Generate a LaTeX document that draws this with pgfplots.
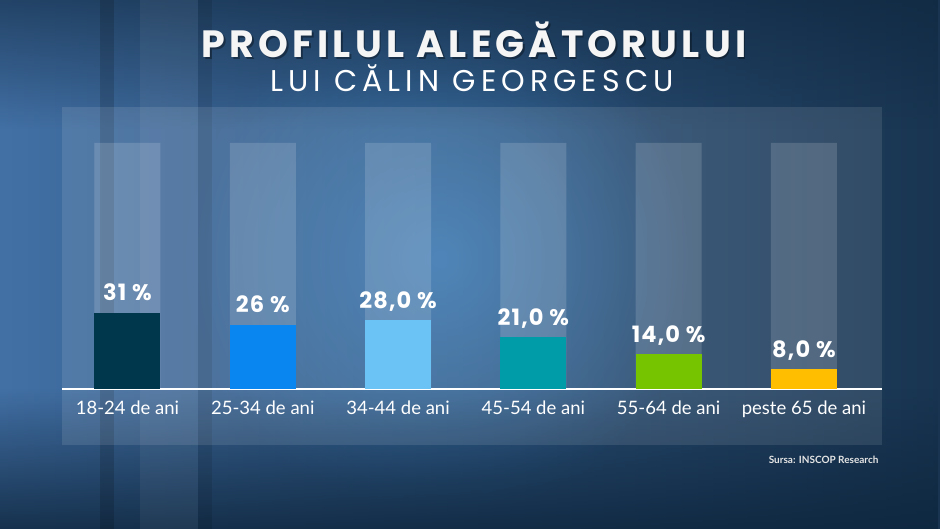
\documentclass[border=0pt]{standalone}
\usepackage{pgfplots}
\pgfplotsset{compat=1.18}
\usepackage{fontspec}
\setmainfont{Lato}
\newfontfamily\titlewide[LetterSpace=11]{Poppins}
\newfontfamily\subwide[LetterSpace=17]{Poppins}
\newfontfamily\valfont[LetterSpace=5]{Poppins}
\usetikzlibrary{fadings}
\definecolor{bgL}{RGB}{66,112,165}
\definecolor{bgM}{RGB}{38,86,140}
\definecolor{bgR}{RGB}{24,52,80}
\definecolor{glow}{RGB}{70,150,220}
\definecolor{dark}{RGB}{14,38,62}
\definecolor{c1}{RGB}{0,55,77}
\definecolor{c2}{RGB}{10,134,240}
\definecolor{c3}{RGB}{107,195,245}
\definecolor{c4}{RGB}{0,157,168}
\definecolor{c5}{RGB}{118,196,0}
\definecolor{c6}{RGB}{255,191,0}
\tikzfading[name=glowfade, inner color=transparent!0, outer color=transparent!100]
\tikzfading[name=fadeup, bottom color=transparent!0, top color=transparent!100]
\tikzfading[name=fadedown, top color=transparent!0, bottom color=transparent!100]
\begin{document}
\begin{tikzpicture}[x=1pt,y=1pt]
\useasboundingbox (0,0) rectangle (940,529);
\begin{scope}
\clip (0,0) rectangle (940,529);
\shade[left color=bgL, middle color=bgM, right color=bgR] (0,0) rectangle (940,529);
\fill[glow, path fading=glowfade, fill opacity=0.55] (440,270) circle (260);
\fill[dark, path fading=fadeup, fill opacity=0.85] (0,0) rectangle (940,140);
\fill[dark, path fading=fadedown, fill opacity=0.6] (0,400) rectangle (940,529);
\fill[black, fill opacity=0.15] (100,0) rectangle (114,529);
\fill[black, fill opacity=0.10] (198,0) rectangle (212,529);
\fill[white, fill opacity=0.05] (140,0) rectangle (198,529);
\end{scope}
\node[text=black, opacity=0.35, font=\titlewide\fontsize{38}{41}\selectfont\bfseries] at (475.5,487.5) {PROFILUL ALEGĂTORULUI};
\node[text=white!92!gray, font=\titlewide\fontsize{38}{41}\selectfont\bfseries] at (474,489) {PROFILUL ALEGĂTORULUI};
\node[text=white, font=\subwide\fontsize{30}{33}\selectfont] at (472,451) {LUI CĂLIN GEORGESCU};
\begin{axis}[
  at={(62pt,84pt)}, anchor=south west,
  scale only axis, width=820pt, height=338pt,
  xmin=-0.484, xmax=5.577, ymin=-22.8, ymax=114.6,
  axis background/.style={fill=white, fill opacity=0.1},
  axis y line=none, axis x line*=middle,
  x axis line style={white, line width=2pt},
  xtick={0,...,5},
  xticklabels={18-24 de ani,25-34 de ani,34-44 de ani,45-54 de ani,55-64 de ani,peste 65 de ani},
  major tick length=0pt,
  xticklabel style={text=white, font=\fontsize{18.5}{22}\selectfont, yshift=-8pt},
  ybar, bar width=66pt, bar shift=0pt,
  point meta=explicit symbolic,
  every node near coord/.append style={anchor=base, yshift=12pt, text=white, font=\valfont\fontsize{22.5}{26}\selectfont\bfseries},
  clip=false,
]
\addplot[draw=none, fill=white, fill opacity=0.15] coordinates {(0,100) (1,100) (2,100) (3,100) (4,100) (5,100)};
\addplot[draw=none, fill=c1, nodes near coords] coordinates {(0,31) [31 \%]};
\addplot[draw=none, fill=c2, nodes near coords] coordinates {(1,26) [26 \%]};
\addplot[draw=none, fill=c3, nodes near coords] coordinates {(2,28) [28,0 \%]};
\addplot[draw=none, fill=c4, nodes near coords] coordinates {(3,21) [21,0 \%]};
\addplot[draw=none, fill=c5, nodes near coords] coordinates {(4,14) [14,0 \%]};
\addplot[draw=none, fill=c6, nodes near coords] coordinates {(5,8) [8,0 \%]};
\end{axis}
\node[anchor=east, text=white!80!gray, font=\fontsize{10}{12}\selectfont\bfseries] at (882,69) {Sursa: INSCOP Research};
\end{tikzpicture}
\end{document}
